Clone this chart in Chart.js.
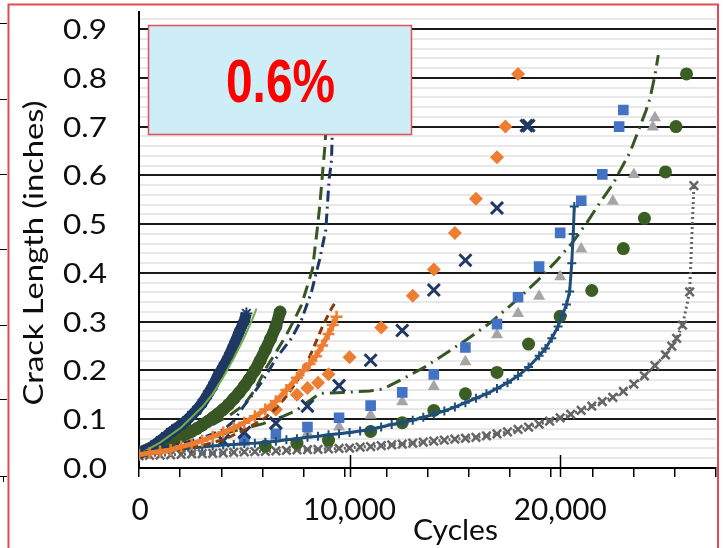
<!DOCTYPE html>
<html>
<head>
<meta charset="utf-8">
<title>Crack Length vs Cycles</title>
<script src="https://cdn.jsdelivr.net/npm/chart.js@4.4.1/dist/chart.umd.min.js"></script>
<style>
    html, body { margin: 0; padding: 0; background: #fff; overflow: hidden; }
    canvas { display: block; }
</style>
</head>
<body>
<canvas id="grafico" width="728" height="548"></canvas>
<script>
// --- Datos (ciclos / pulgadas) ---

// Serie densa azul marino (estrellas)
const estrellasX = [0, 250, 500, 750, 1000, 1250, 1500, 1750, 2000, 2250, 2500, 2750, 3000, 3250, 3500, 3750, 4000, 4250, 4500, 4750, 5000, 5100];
const estrellasY = [0.030, 0.035, 0.041, 0.048, 0.056, 0.064, 0.073, 0.081, 0.088, 0.097, 0.108, 0.119, 0.133, 0.150, 0.168, 0.190, 0.208, 0.228, 0.252, 0.278, 0.302, 0.317];

// Ajuste verde claro
const ajusteVerdeX = [0, 1000, 2000, 3000, 3500, 4000, 4500, 5000, 5400, 5580];
const ajusteVerdeY = [0.028, 0.052, 0.083, 0.125, 0.152, 0.186, 0.225, 0.268, 0.307, 0.327];

// Serie densa verde oscuro (círculos)
const circDensosX = [0, 250, 500, 750, 1000, 1250, 1500, 1750, 2000, 2250, 2500, 2750, 3000, 3250, 3500, 3750, 4000, 4250, 4500, 4750, 5000, 5250, 5500, 5750, 6000, 6250, 6500, 6700];
const circDensosY = [0.031, 0.035, 0.039, 0.043, 0.046, 0.050, 0.055, 0.060, 0.065, 0.070, 0.075, 0.081, 0.088, 0.095, 0.103, 0.111, 0.120, 0.130, 0.142, 0.154, 0.168, 0.183, 0.200, 0.220, 0.242, 0.265, 0.290, 0.320];

// Línea verde de trazos largos
const trazosVerdeX = [0, 1000, 2000, 3040, 4310, 5000, 5500, 6050, 6500, 7000, 7500, 7710, 7950, 8240, 8460, 8580, 8660, 8740, 8830, 8950, 9050];
const trazosVerdeY = [0.025, 0.040, 0.057, 0.078, 0.108, 0.130, 0.160, 0.206, 0.237, 0.273, 0.315, 0.334, 0.367, 0.408, 0.488, 0.536, 0.576, 0.617, 0.660, 0.750, 0.850];

// Línea azul marino trazo-punto
const trazoPuntoAzulX = [0, 2000, 3000, 4000, 4470, 4940, 5420, 5890, 6530, 7240, 7710, 8190, 8580, 8870, 9030, 9140, 9220];
const trazoPuntoAzulY = [0.030, 0.050, 0.062, 0.078, 0.095, 0.125, 0.152, 0.180, 0.226, 0.266, 0.303, 0.361, 0.428, 0.488, 0.593, 0.630, 0.750];

// Línea marrón discontinua
const marronX = [0, 2000, 3000, 4000, 4310, 5000, 6000, 6500, 7000, 7500, 7950, 8350, 8740, 9140, 9300];
const marronY = [0.025, 0.038, 0.046, 0.058, 0.064, 0.078, 0.103, 0.122, 0.147, 0.178, 0.2125, 0.253, 0.293, 0.327, 0.338];

// Serie densa naranja (cruces)
const naranjaX = [0, 500, 1000, 1500, 2000, 2500, 3000, 3500, 4000, 4500, 5000, 5500, 6000, 6500, 7000, 7500, 7800, 8100, 8400, 8700, 9000, 9200, 9380];
const naranjaY = [0.027, 0.031, 0.034, 0.037, 0.044, 0.049, 0.056, 0.064, 0.073, 0.082, 0.093, 0.106, 0.120, 0.137, 0.160, 0.185, 0.200, 0.213, 0.229, 0.251, 0.275, 0.293, 0.310];

// Línea azul con cruces
const lineaAzulX = [0, 500, 1000, 1500, 2000, 2500, 3000, 3500, 4000, 4500, 5000, 5500, 6000, 6500, 7000, 7500, 8000, 8500, 9000, 9500, 10000, 10500, 11000, 11500, 12000, 12500, 13000, 13500, 14000, 14500, 15000, 15500, 16000, 16500, 17000, 17500, 18000, 18500, 19000, 19300, 19600, 19900, 20100, 20300, 20450, 20550, 20620, 20670];
const lineaAzulY = [0.033, 0.034, 0.036, 0.037, 0.039, 0.041, 0.043, 0.045, 0.047, 0.048, 0.050, 0.051, 0.053, 0.055, 0.058, 0.060, 0.063, 0.065, 0.068, 0.070, 0.073, 0.076, 0.079, 0.084, 0.089, 0.093, 0.098, 0.104, 0.110, 0.117, 0.125, 0.134, 0.143, 0.152, 0.163, 0.175, 0.189, 0.207, 0.230, 0.245, 0.266, 0.290, 0.313, 0.335, 0.362, 0.420, 0.480, 0.536];

// Línea verde trazo-punto
const trazoPuntoVerdeX = [0, 2000, 4000, 5900, 6840, 7470, 8000, 8600, 9700, 10960, 11590, 12500, 13650, 14600, 15550, 16660, 17930, 18900, 19830, 20600, 21250, 21900, 22520, 22760, 23310, 23700, 24070, 24260, 24500, 24660];
const trazoPuntoVerdeY = [0.025, 0.045, 0.070, 0.091, 0.106, 0.118, 0.135, 0.153, 0.155, 0.158, 0.162, 0.182, 0.209, 0.236, 0.263, 0.297, 0.344, 0.383, 0.425, 0.463, 0.502, 0.545, 0.583, 0.603, 0.647, 0.690, 0.732, 0.757, 0.805, 0.847];

// Serie gris punteada
const grisX = [0, 500, 1000, 1500, 2000, 2500, 3000, 3500, 4000, 4500, 5000, 5500, 6000, 6500, 7000, 7500, 8000, 8500, 9000, 9500, 10000, 10500, 11000, 11500, 12000, 12500, 13000, 13500, 14000, 14500, 15000, 15500, 16000, 16500, 17000, 17500, 18000, 18500, 19000, 19500, 20000, 20500, 21000, 21500, 22000, 22500, 23000, 23500, 24000, 24500, 25000, 25300, 25530, 25810, 26150, 26350];
const grisY = [0.025, 0.026, 0.0265, 0.027, 0.028, 0.029, 0.0295, 0.030, 0.031, 0.032, 0.033, 0.0335, 0.034, 0.035, 0.036, 0.037, 0.0375, 0.038, 0.039, 0.040, 0.041, 0.043, 0.044, 0.046, 0.0475, 0.049, 0.051, 0.053, 0.055, 0.057, 0.059, 0.061, 0.063, 0.066, 0.070, 0.074, 0.079, 0.084, 0.090, 0.096, 0.103, 0.110, 0.118, 0.127, 0.136, 0.145, 0.157, 0.172, 0.189, 0.210, 0.232, 0.250, 0.266, 0.293, 0.361, 0.579];

// Puntos sueltos
const rombosX = [6500, 7500, 8000, 8500, 9000, 10000, 11500, 13000, 14000, 15000, 16000, 17000, 17400, 18000];
const rombosY = [0.120, 0.150, 0.164, 0.175, 0.192, 0.227, 0.288, 0.353, 0.407, 0.482, 0.552, 0.637, 0.700, 0.808];

const aspasX = [4000, 5000, 6500, 8000, 9500, 11000, 12500, 14000, 15500, 17000, 18400, 18500];
const aspasY = [0.056, 0.073, 0.092, 0.127, 0.169, 0.221, 0.282, 0.365, 0.426, 0.533, 0.702, 0.702];

const cuadradosX = [0, 5000, 6500, 8000, 9500, 11000, 12500, 14000, 15500, 17000, 18000, 19000, 20000, 21000, 22000, 22800, 23000];
const cuadradosY = [0.033, 0.057, 0.070, 0.084, 0.103, 0.128, 0.155, 0.192, 0.247, 0.295, 0.350, 0.413, 0.482, 0.548, 0.602, 0.700, 0.734];

const triangulosX = [5000, 6500, 8000, 9500, 11000, 12500, 14000, 15500, 17000, 18000, 19000, 20000, 21000, 22500, 23500, 24400, 24500];
const triangulosY = [0.052, 0.063, 0.071, 0.084, 0.108, 0.136, 0.167, 0.218, 0.273, 0.317, 0.352, 0.392, 0.449, 0.547, 0.602, 0.699, 0.718];

const circulosX = [6000, 7500, 9000, 11000, 12500, 14000, 15500, 17000, 18500, 20000, 21500, 23000, 24000, 25000, 25500, 26000];
const circulosY = [0.045, 0.051, 0.057, 0.075, 0.093, 0.118, 0.152, 0.196, 0.254, 0.311, 0.364, 0.450, 0.512, 0.607, 0.700, 0.808];

// Etiquetas de los ejes
const etiquetasX = [0, 10000, 20000];
const etiquetasY = [0, 0.1, 0.2, 0.3, 0.4, 0.5, 0.6, 0.7, 0.8, 0.9];
const tituloY = 'Crack Length (inches)';
const tituloX = 'Cycles';
const textoCaja = '0.6%';

// Une dos arrays en puntos {x, y}
function puntos(xs, ys) {
    return xs.map((x, i) => ({ x: x, y: ys[i] }));
}

// Dibuja un texto estirado/encogido horizontalmente por un factor
function textoEscalado(ctx, texto, cx, cy, factor, rot, base) {
    ctx.save();
    ctx.translate(cx, cy);
    ctx.rotate(rot);
    ctx.scale(factor, 1);
    ctx.textAlign = 'center';
    ctx.textBaseline = base;
    ctx.fillText(texto, 0, 0);
    ctx.restore();
}

// Igual, pero ajustando el texto a un ancho dado
function textoAjustado(ctx, texto, cx, cy, ancho, rot, base) {
    textoEscalado(ctx, texto, cx, cy, ancho / ctx.measureText(texto).width, rot, base);
}

const esMayor = v => Math.abs(v * 10 - Math.round(v * 10)) < 1e-6;

// Plugin para etiquetas, cuadro, títulos y marco
const pluginDecoracion = {
    id: 'decoracion',
    afterDraw: (chart) => {
        const ctx = chart.ctx;
        const area = chart.chartArea;
        const escX = chart.scales.x;
        const escY = chart.scales.y;
        ctx.save();

        // marcas mayores del eje X
        ctx.strokeStyle = '#000';
        ctx.lineWidth = 1.5;
        [10000, 20000].forEach(v => {
            const px = Math.round(escX.getPixelForValue(v)) + 0.5;
            ctx.beginPath();
            ctx.moveTo(px, area.bottom - 13);
            ctx.lineTo(px, area.bottom + 9);
            ctx.stroke();
        });

        // etiquetas del eje Y
        ctx.fillStyle = '#0d0d0d';
        ctx.font = "26px Lato, 'Open Sans', sans-serif";
        etiquetasY.forEach(v => {
            const py = escY.getPixelForValue(v);
            textoAjustado(ctx, v.toFixed(1), 85, py + 10, 44, 0, 'alphabetic');
        });

        // etiquetas del eje X
        ctx.font = "30px Lato, 'Open Sans', sans-serif";
        const factorX = 93 / ctx.measureText('10,000').width;
        etiquetasX.forEach(v => {
            const px = escX.getPixelForValue(v);
            textoEscalado(ctx, v.toLocaleString('en-US'), px + (v === 0 ? 1 : 0), 520, factorX, 0, 'alphabetic');
        });

        // cuadro "0.6%"
        ctx.fillStyle = '#CDEDF7';
        ctx.fillRect(148.5, 25.5, 263, 109);
        ctx.strokeStyle = '#E0505C';
        ctx.lineWidth = 1.5;
        ctx.strokeRect(148.5, 25.5, 263, 109);
        ctx.fillStyle = '#FF0000';
        ctx.font = "bold 62px 'Liberation Sans Narrow', 'Liberation Sans', sans-serif";
        textoAjustado(ctx, textoCaja, 280.5, 101.5, 109, 0, 'alphabetic');

        // títulos de los ejes
        ctx.fillStyle = '#0d0d0d';
        ctx.font = "26px Lato, 'Open Sans', sans-serif";
        textoAjustado(ctx, tituloY, 35, 253, 305, -Math.PI / 2, 'middle');
        ctx.font = "28px Lato, 'Open Sans', sans-serif";
        textoAjustado(ctx, tituloX, 455.5, 540, 85, 0, 'alphabetic');

        // restos de otro gráfico a la izquierda
        ctx.strokeStyle = '#000';
        ctx.lineWidth = 1;
        [23, 99, 174, 249, 325, 399].forEach(y => {
            ctx.beginPath();
            ctx.moveTo(0, y + 0.5);
            ctx.lineTo(7, y + 0.5);
            ctx.stroke();
        });
        ctx.beginPath();
        ctx.moveTo(0, 476.5); ctx.lineTo(7, 476.5);
        ctx.moveTo(3.5, 476.5); ctx.lineTo(3.5, 482);
        ctx.stroke();

        // marco rojo
        ctx.strokeStyle = '#E04B55';
        ctx.lineWidth = 2;
        ctx.beginPath();
        ctx.moveTo(8.5, 548);
        ctx.lineTo(8.5, 4.5);
        ctx.lineTo(718, 4.5);
        ctx.lineTo(718, 548);
        ctx.stroke();

        ctx.restore();
    }
};

const NAVY = '#1F3864';
const AZUL = '#1F4E79';
const VERDE = '#375623';
const NARANJA = '#ED7D31';
const GRIS = '#646464';

const datasets = [
    { data: puntos(naranjaX, naranjaY), showLine: true, borderColor: NARANJA, borderWidth: 5,
      pointStyle: 'cross', pointRadius: 6, pointBorderWidth: 2.5, pointBorderColor: NARANJA, pointBackgroundColor: NARANJA },
    { data: puntos(marronX, marronY), showLine: true, borderColor: '#843C0C', borderWidth: 3, borderDash: [8, 5], pointRadius: 0 },
    { data: puntos(trazoPuntoAzulX, trazoPuntoAzulY), showLine: true, borderColor: NAVY, borderWidth: 3, borderDash: [11, 5, 2, 5], pointRadius: 0 },
    { data: puntos(trazosVerdeX, trazosVerdeY), showLine: true, borderColor: VERDE, borderWidth: 3, borderDash: [13, 7], pointRadius: 0 },
    { data: puntos(ajusteVerdeX, ajusteVerdeY), showLine: true, borderColor: '#70AD47', borderWidth: 2, pointRadius: 0 },
    { data: puntos(estrellasX, estrellasY), showLine: true, borderColor: NAVY, borderWidth: 11,
      pointStyle: 'star', pointRadius: 6, pointBorderWidth: 2, pointBorderColor: NAVY, pointBackgroundColor: NAVY },
    { data: puntos(circDensosX, circDensosY), showLine: true, borderColor: VERDE, borderWidth: 12,
      pointStyle: 'circle', pointRadius: 6, pointBorderWidth: 1, pointBorderColor: VERDE, pointBackgroundColor: VERDE },
    { data: puntos(lineaAzulX, lineaAzulY), showLine: true, borderColor: AZUL, borderWidth: 3,
      pointStyle: 'cross', pointRadius: 4.5, pointBorderWidth: 2, pointBorderColor: AZUL, pointBackgroundColor: AZUL },
    { data: puntos(rombosX, rombosY), pointStyle: 'rectRot', pointRadius: 7, pointBorderWidth: 0, pointBackgroundColor: NARANJA, pointBorderColor: NARANJA },
    { data: puntos(aspasX, aspasY), pointStyle: 'crossRot', pointRadius: 8.5, pointBorderWidth: 3, pointBorderColor: NAVY, pointBackgroundColor: NAVY },
    { data: puntos(cuadradosX, cuadradosY), pointStyle: 'rect', pointRadius: 7.5, pointBorderWidth: 0, pointBackgroundColor: '#4472C4', pointBorderColor: '#4472C4' },
    { data: puntos(triangulosX, triangulosY), pointStyle: 'triangle', pointRadius: 7, pointBorderWidth: 0, pointBackgroundColor: '#A5A5A5', pointBorderColor: '#A5A5A5' },
    { data: puntos(circulosX, circulosY), pointStyle: 'circle', pointRadius: 6.5, pointBorderWidth: 0, pointBackgroundColor: '#3B5E22', pointBorderColor: '#3B5E22' },
    { data: puntos(trazoPuntoVerdeX, trazoPuntoVerdeY), showLine: true, borderColor: VERDE, borderWidth: 3, borderDash: [15, 6, 2, 6], pointRadius: 0 },
    { data: puntos(grisX, grisY), showLine: true, borderColor: GRIS, borderWidth: 3, borderDash: [2, 3],
      pointStyle: 'crossRot', pointRadius: 6, pointBorderWidth: 2.5, pointBorderColor: GRIS, pointBackgroundColor: GRIS }
];

const grafico = new Chart(document.getElementById('grafico').getContext('2d'), {
    type: 'scatter',
    data: { datasets: datasets },
    options: {
        responsive: false,
        devicePixelRatio: 1,
        animation: false,
        events: [],
        layout: { padding: { left: 0, top: 5, right: 12, bottom: 0 } },
        plugins: { legend: { display: false }, tooltip: { enabled: false } },
        scales: {
            x: {
                type: 'linear',
                min: 0,
                max: 27400,
                afterFit: (s) => { s.height = 80; s.paddingLeft = 0; s.paddingRight = 0; },
                ticks: { display: false, stepSize: 2000, includeBounds: false, autoSkip: false, maxRotation: 0 },
                grid: { drawOnChartArea: false, drawTicks: true, tickLength: 9, color: '#000', lineWidth: 1.5 },
                border: { display: true, color: '#000', width: 2 }
            },
            y: {
                type: 'linear',
                min: 0,
                max: 0.936,
                afterFit: (s) => { s.width = 139; s.paddingTop = 0; s.paddingBottom = 0; },
                ticks: { display: false, stepSize: 0.02, includeBounds: false, autoSkip: false },
                grid: {
                    drawTicks: false,
                    color: (c) => esMayor(c.tick.value) ? '#1a1a1a' : '#E8E8E8',
                    lineWidth: 2
                },
                border: { display: true, color: '#000', width: 2 }
            }
        }
    },
    plugins: [pluginDecoracion]
});
</script>
</body>
</html>
